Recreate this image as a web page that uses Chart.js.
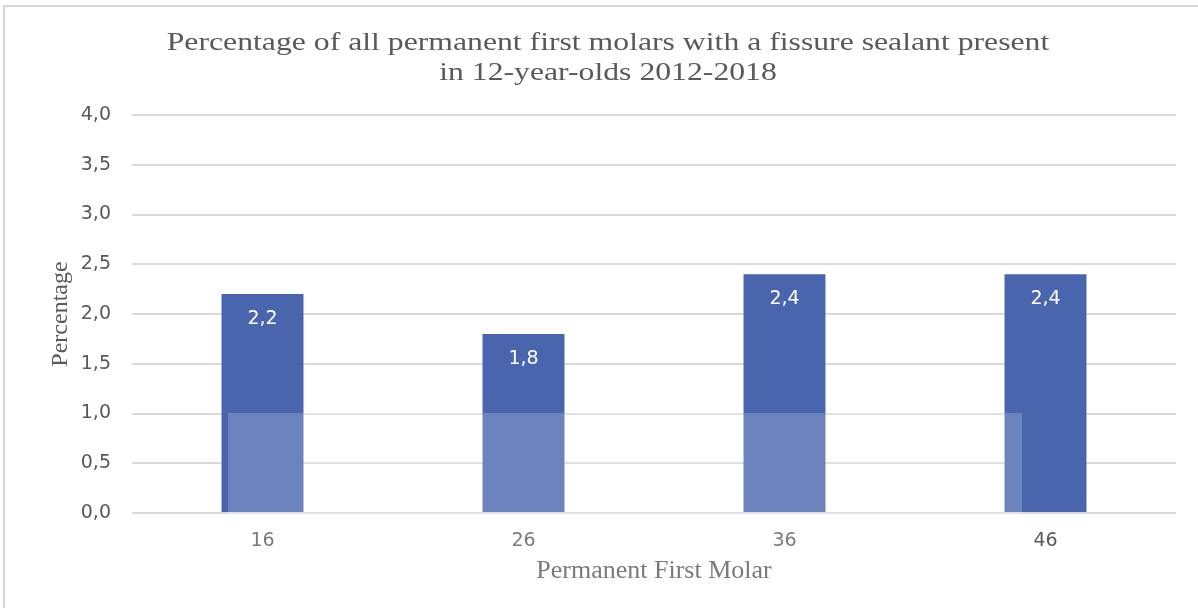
<!DOCTYPE html>
<html>
<head>
<meta charset="utf-8">
<title>Fissure sealants in permanent first molars</title>
<script src="https://cdn.jsdelivr.net/npm/chart.js@4"></script>
<style>
  html, body { margin: 0; padding: 0; background: #ffffff; }
  #wrap { width: 1198px; height: 608px; position: relative; }
</style>
</head>
<body>
<div id="wrap"><canvas id="chart" width="1198" height="608"></canvas></div>
<script>
// Tooth numbers (FDI notation) of the four permanent first molars
const molars = ['16', '26', '36', '46'];
// Share of teeth with a fissure sealant present (%)
const sealantPercent = [2.2, 1.8, 2.4, 2.4];
// Y axis tick values
const yTicks = [0, 0.5, 1, 1.5, 2, 2.5, 3, 3.5, 4];

const titleLines = [
  'Percentage of all permanent first molars with a fissure sealant present',
  'in 12-year-olds 2012-2018'
];

const BAR_BLUE = '#4965AD';
const TEXT_GREY = '#595959';
const GRID_GREY = '#D9D9D9';
const SANS = '"DejaVu Sans", "Open Sans", sans-serif';
const SERIF = '"Liberation Serif", "Times New Roman", serif';

const fmt = v => v.toFixed(1).replace('.', ',');

// White page with a thin grey frame along the top and left edges
const framePlugin = {
  id: 'frame',
  beforeDraw(chart) {
    const ctx = chart.ctx;
    ctx.save();
    ctx.fillStyle = '#ffffff';
    ctx.fillRect(0, 0, chart.width, chart.height);
    ctx.strokeStyle = '#D6D6D6';
    ctx.lineWidth = 2;
    ctx.beginPath();
    ctx.moveTo(4, chart.height + 2);
    ctx.lineTo(4, 6);
    ctx.lineTo(chart.width + 2, 6);
    ctx.stroke();
    ctx.restore();
  }
};

// Two-line heading, set in a slightly widened serif face
const headingPlugin = {
  id: 'heading',
  afterDraw(chart) {
    const ctx = chart.ctx;
    const cx = chart.width / 2 + 9;
    ctx.save();
    ctx.fillStyle = TEXT_GREY;
    ctx.font = '26px ' + SERIF;
    ctx.textAlign = 'center';
    ctx.textBaseline = 'middle';
    ctx.translate(cx, 0);
    ctx.scale(1.22, 1);
    ctx.fillText(titleLines[0], 0, 43);
    ctx.fillText(titleLines[1], 0, 73);
    ctx.restore();
  }
};

// Value written in white just inside the top of each bar
const barValuePlugin = {
  id: 'barValues',
  afterDatasetsDraw(chart) {
    const ctx = chart.ctx;
    const meta = chart.getDatasetMeta(0);
    const values = chart.data.datasets[0].data;
    ctx.save();
    ctx.fillStyle = '#ffffff';
    ctx.font = '19px ' + SANS;
    ctx.textAlign = 'center';
    ctx.textBaseline = 'middle';
    meta.data.forEach((bar, i) => {
      ctx.fillText(fmt(values[i]), bar.x, bar.y + 25);
    });
    ctx.restore();
  }
};

// Faint light wash over the lower middle of the picture
const washPlugin = {
  id: 'wash',
  afterDatasetsDraw(chart) {
    const ctx = chart.ctx;
    ctx.save();
    ctx.fillStyle = 'rgba(255,255,255,0.2)';
    ctx.fillRect(228, 413, 794, 195);
    ctx.restore();
  }
};

new Chart(document.getElementById('chart'), {
  type: 'bar',
  data: {
    labels: molars,
    datasets: [{
      data: sealantPercent,
      backgroundColor: BAR_BLUE,
      borderWidth: 0,
      categoryPercentage: 1.0,
      barPercentage: 0.314
    }]
  },
  options: {
    responsive: false,
    animation: false,
    devicePixelRatio: 1,
    layout: { padding: { left: 0, right: 22, top: 115, bottom: 0 } },
    plugins: {
      legend: { display: false },
      tooltip: { enabled: false },
      title: { display: false }
    },
    scales: {
      x: {
        grid: { display: false, drawTicks: false },
        border: { display: false },
        ticks: {
          color: TEXT_GREY,
          font: { family: SANS, size: 19 },
          padding: 17
        },
        title: {
          display: true,
          text: 'Permanent First Molar',
          color: TEXT_GREY,
          font: { family: SERIF, size: 26, lineHeight: 1.2 },
          padding: { top: 0, bottom: 21 }
        },
        afterFit(scale) { scale.height = 95; }
      },
      y: {
        min: 0,
        max: 4,
        afterBuildTicks(scale) { scale.ticks = yTicks.map(v => ({ value: v })); },
        grid: { color: GRID_GREY, lineWidth: 2, drawTicks: false },
        border: { display: false },
        ticks: {
          color: TEXT_GREY,
          font: { family: SANS, size: 19 },
          padding: 21,
          callback: v => fmt(v)
        },
        title: {
          display: true,
          text: 'Percentage',
          color: TEXT_GREY,
          font: { family: SERIF, size: 24, lineHeight: 1.2 },
          padding: { top: 46, bottom: 0 }
        },
        afterFit(scale) { scale.width = 132; }
      }
    }
  },
  plugins: [framePlugin, washPlugin, barValuePlugin, headingPlugin]
});
</script>
</body>
</html>
